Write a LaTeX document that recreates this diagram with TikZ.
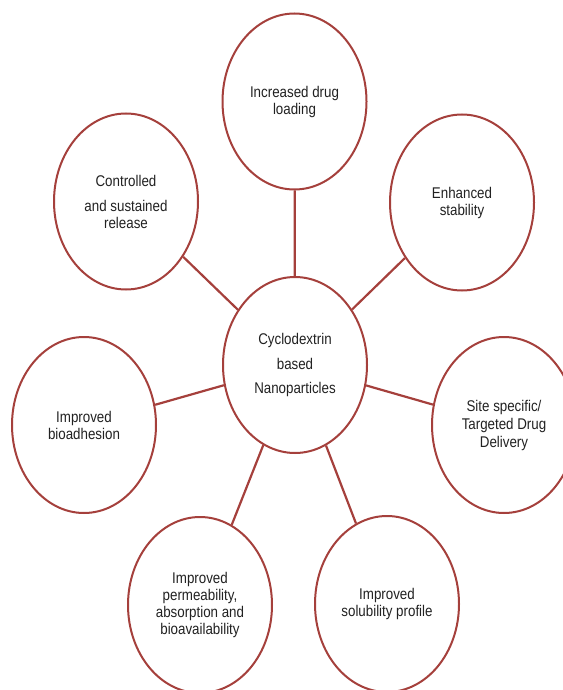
\documentclass[tikz,border=0pt]{standalone}
\usepackage{fontspec}
\setmainfont[FakeStretch=0.86]{Liberation Sans}
\usetikzlibrary{shapes.geometric}
\definecolor{ring}{HTML}{A5403C}
\definecolor{txt}{HTML}{222222}
\begin{document}
\begin{tikzpicture}[x=1pt,y=-1pt,
  bubble/.style={ellipse,draw=ring,line width=2pt,fill=white,minimum width=144pt,minimum height=176pt,inner sep=0pt,align=center,text=txt,font=\fontsize{15.5}{17}\selectfont},
  link/.style={draw=ring,line width=2.2pt}]
\useasboundingbox (0,0) rectangle (562,690);
\node[bubble] (c) at (295,365) {Cyclodextrin\\[8pt]based\\[7pt]Nanoparticles};
\node[bubble] (t) at (294.5,101.5) {Increased drug\\loading};
\node[bubble] (ul) at (126,201.5) {Controlled\\[8pt]and sustained\\release};
\node[bubble] (ur) at (462,202.5) {Enhanced\\stability};
\node[bubble] (l) at (84,425) {Improved\\bioadhesion};
\node[bubble] (r) at (504,425) {Site specific/\\[1pt]Targeted Drug\\[1pt]Delivery};
\node[bubble] (bl) at (200,605) {Improved\\permeability,\\absorption and\\bioavailability};
\node[bubble] (br) at (387,604) {Improved\\solubility profile};
\foreach \n in {t,ul,ur,l,r,bl,br} \draw[link] (c) -- (\n);
\end{tikzpicture}
\end{document}
